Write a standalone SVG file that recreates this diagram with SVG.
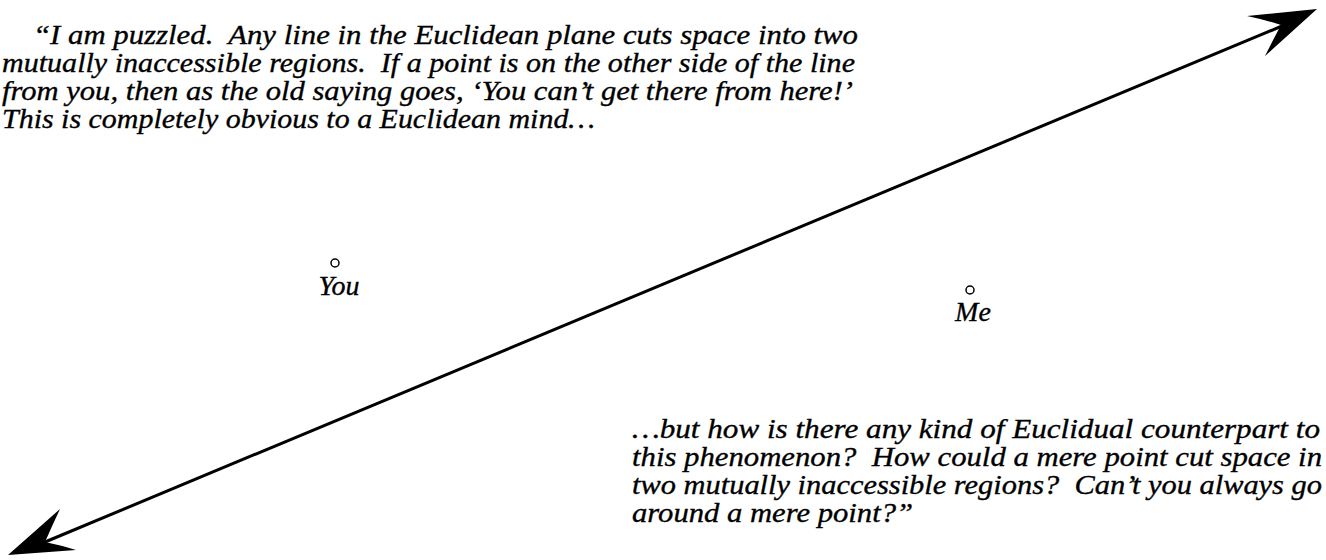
<svg xmlns="http://www.w3.org/2000/svg" width="1326" height="560" viewBox="0 0 1326 560">
  <style>
    .t { font-family: "Liberation Serif", "DejaVu Serif", serif; font-style: italic; font-size: 28px; fill: #000; stroke: #000; stroke-width: 0.35; white-space: pre; }
    .lbl { font-family: "Liberation Serif", "DejaVu Serif", serif; font-style: italic; font-size: 28px; fill: #000; stroke: #000; stroke-width: 0.35; text-anchor: middle; }
    .pt { fill: #fff; stroke: #000; stroke-width: 1.5; }
    .ln { stroke: #000; stroke-width: 3; fill: none; }
    .head { fill: #000; stroke: none; }
  </style>
  <rect width="1326" height="560" fill="#fff"/>
  <g id="connectors">
    <line class="ln" x1="45" y1="542" x2="1282" y2="26"/>
    <path class="head" d="M1317,9 L1247,16 Q1266,20 1281,25 Q1273,40 1265,56 Z"/>
    <path class="head" d="M8,555 L60,509 Q52,526 45,542 Q60,545 76,550 Z"/>
  </g>
  <g id="quote-top">
    <text class="t" x="33" y="44" textLength="825" lengthAdjust="spacingAndGlyphs">“I am puzzled.  Any line in the Euclidean plane cuts space into two</text>
    <text class="t" x="2" y="72" textLength="853" lengthAdjust="spacingAndGlyphs">mutually inaccessible regions.  If a point is on the other side of the line</text>
    <text class="t" x="2" y="100" textLength="851" lengthAdjust="spacingAndGlyphs">from you, then as the old saying goes, ‘You can’t get there from here!’</text>
    <text class="t" x="2" y="128" textLength="593" lengthAdjust="spacingAndGlyphs">This is completely obvious to a Euclidean mind…</text>
  </g>
  <g id="node-you">
    <circle class="pt" cx="335" cy="263" r="4"/>
    <text class="lbl" x="339" y="295">You</text>
  </g>
  <g id="node-me">
    <circle class="pt" cx="970" cy="290" r="4"/>
    <text class="lbl" x="973" y="321">Me</text>
  </g>
  <g id="quote-bottom">
    <text class="t" x="632" y="438" textLength="688" lengthAdjust="spacingAndGlyphs">…but how is there any kind of Euclidual counterpart to</text>
    <text class="t" x="632" y="466" textLength="690" lengthAdjust="spacingAndGlyphs">this phenomenon?  How could a mere point cut space in</text>
    <text class="t" x="632" y="494" textLength="690" lengthAdjust="spacingAndGlyphs">two mutually inaccessible regions?  Can’t you always go</text>
    <text class="t" x="632" y="522" textLength="281" lengthAdjust="spacingAndGlyphs">around a mere point?”</text>
  </g>
</svg>
